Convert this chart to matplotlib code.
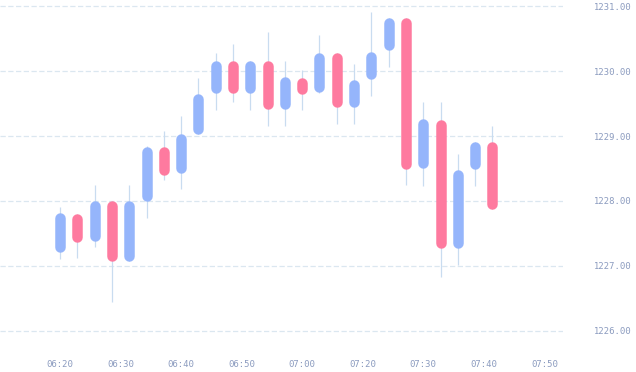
import matplotlib
matplotlib.use("Agg")
from matplotlib import pyplot as plt

# candle data (2-min bars)
opens  = [1227.21, 1227.80, 1227.38, 1228.00, 1227.07, 1227.99, 1228.84, 1228.42,
          1229.03, 1229.66, 1230.16, 1229.66, 1230.16, 1229.41, 1229.90, 1229.67,
          1230.29, 1229.44, 1229.88, 1230.32, 1230.82, 1228.50, 1229.26, 1227.27,
          1228.49, 1228.91]
closes = [1227.81, 1227.37, 1228.00, 1227.07, 1228.00, 1228.84, 1228.40, 1229.03,
          1229.65, 1230.16, 1229.66, 1230.16, 1229.41, 1229.91, 1229.65, 1230.29,
          1229.44, 1229.87, 1230.30, 1230.82, 1228.49, 1229.27, 1227.27, 1228.48,
          1228.91, 1227.87]
highs  = [1227.90, 1227.80, 1228.25, 1228.00, 1228.25, 1228.84, 1229.08, 1229.31,
          1229.90, 1230.29, 1230.42, 1230.16, 1230.60, 1230.16, 1230.02, 1230.56,
          1230.29, 1230.11, 1230.92, 1230.82, 1230.82, 1229.53, 1229.52, 1228.72,
          1228.91, 1229.16]
lows   = [1227.11, 1227.12, 1227.29, 1226.44, 1227.07, 1227.74, 1228.32, 1228.18,
          1229.03, 1229.41, 1229.53, 1229.40, 1229.16, 1229.16, 1229.41, 1229.67,
          1229.19, 1229.19, 1229.62, 1230.07, 1228.25, 1228.23, 1226.83, 1227.01,
          1228.23, 1227.87]

tick_pos = [0, 3.5, 7, 10.5, 14, 17.5, 21, 24.5, 28]
tick_labels = ['06:20', '06:30', '06:40', '06:50', '07:00', '07:20', '07:30', '07:40', '07:50']
y_ticks = [1226, 1227, 1228, 1229, 1230, 1231]

up_color = '#95b5fb'
down_color = '#fe7a9f'
wick_color = '#c9dcf0'
text_color = '#8b9bbf'

fig = plt.figure(figsize=(6.36, 3.72), dpi=100)
ax = fig.add_axes([0, 22 / 372, 563 / 636, 350 / 372])
ax.set_xlim(-3.47, 29.08)
ax.set_ylim(1225.70, 1231.10)

# convert half of body width (px) into data units for round caps
body_px = 10.5
px_per_unit = ax.bbox.height / (1231.10 - 1225.70)
r = (body_px / 2) / px_per_unit
lw = body_px * 72 / fig.dpi

for i in range(len(opens)):
    o, c, h, l = opens[i], closes[i], highs[i], lows[i]
    col = up_color if c >= o else down_color
    ax.vlines(i, l, h, color=wick_color, linewidth=0.9, zorder=2)
    lo, hi = min(o, c) + r, max(o, c) - r
    if hi < lo:
        lo = hi = (o + c) / 2
    ax.plot([i, i], [lo, hi], color=col, linewidth=lw, solid_capstyle='round', zorder=3)

ax.set_yticks(y_ticks)
ax.set_yticklabels(['{:.2f}'.format(v) for v in y_ticks])
ax.yaxis.tick_right()
ax.set_xticks(tick_pos)
ax.set_xticklabels(tick_labels)
ax.grid(axis='y', color='#dbe7f0', linewidth=0.9, linestyle=(0, (4.2, 2.0)))
ax.set_axisbelow(True)
ax.tick_params(axis='both', length=0, labelcolor=text_color)
ax.tick_params(axis='y', pad=22)
ax.tick_params(axis='x', pad=7.5)
for lab in ax.get_xticklabels() + ax.get_yticklabels():
    lab.set_fontfamily('DejaVu Sans Mono')
    lab.set_fontsize(6.4)
for s in ax.spines.values():
    s.set_visible(False)

fig.savefig('out.png', dpi=100)
